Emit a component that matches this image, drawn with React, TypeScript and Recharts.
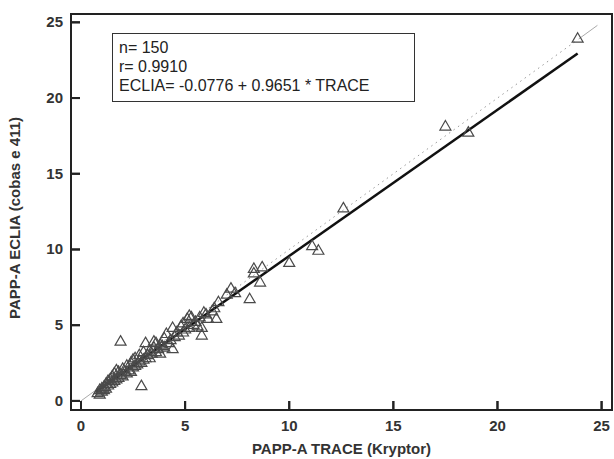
import React from "react";
import { ScatterChart, Scatter, XAxis, YAxis, ReferenceLine } from "recharts";

const traceValues = [
  0.8, 0.9, 0.9, 1.0, 1.0, 1.1, 1.1, 1.2, 1.2, 1.3, 1.3, 1.4, 1.4, 1.5, 1.5, 1.6, 1.6, 1.7, 1.7, 1.8,
  1.8, 1.9, 1.9, 2.0, 2.0, 2.1, 2.2, 2.2, 2.3, 2.4, 2.4, 2.5, 2.5, 2.6, 2.6, 2.7, 2.8, 2.8, 2.9, 2.9,
  3.0, 3.0, 3.1, 3.1, 3.2, 3.3, 3.3, 3.4, 3.5, 3.5, 3.6, 3.6, 3.7, 3.8, 3.8, 3.9, 4.0, 4.0, 4.1, 4.2,
  4.3, 4.4, 4.4, 4.5, 4.6, 4.7, 4.8, 4.9, 4.9, 5.0, 5.1, 5.2, 5.2, 5.3, 5.4, 5.5, 5.6, 5.7, 5.8, 5.8,
  5.9, 6.0, 6.1, 6.3, 6.5, 6.6, 6.4, 7.0, 7.2, 7.4, 8.1, 8.3, 8.3, 8.6, 8.7, 10.0, 11.1, 11.4, 12.6, 17.5,
  18.6, 23.85,
];
const ecliaValues = [
  0.6, 0.8, 0.5, 0.9, 0.7, 1.0, 0.8, 1.2, 0.9, 1.1, 1.4, 1.2, 1.5, 1.3, 1.7, 1.4, 1.9, 1.5, 2.1, 1.6,
  2.0, 1.8, 4.0, 1.7, 2.2, 2.0, 1.9, 2.4, 2.1, 2.6, 2.0, 2.3, 2.8, 2.4, 2.9, 2.5, 2.7, 3.1, 2.6, 1.06,
  2.8, 3.3, 3.9, 2.9, 3.1, 3.4, 2.9, 3.2, 3.6, 4.0, 3.9, 3.3, 3.5, 3.2, 3.8, 3.7, 4.2, 3.6, 4.5, 3.9,
  4.1, 3.5, 4.9, 4.3, 4.6, 4.4, 5.0, 4.6, 5.2, 4.8, 5.5, 5.7, 4.9, 5.6, 5.1, 5.3, 5.0, 5.6, 4.9, 4.4,
  5.9, 5.8, 5.5, 6.0, 5.5, 6.6, 6.2, 7.1, 7.5, 7.2, 6.8, 8.5, 8.8, 7.9, 8.9, 9.2, 10.3, 10.0, 12.8, 18.2,
  17.8, 24.0,
];
const xTicks = [0, 5, 10, 15, 20, 25];
const yTicks = [0, 5, 10, 15, 20, 25];
const xDomain = [-0.48, 25.5];
const yDomain = [-0.6, 25.55];
const statLines = ["n= 150", "r= 0.9910", "ECLIA= -0.0776 + 0.9651 * TRACE"];
const intercept = -0.0776;
const slope = 0.9651;
const fitRange = [0.7, 23.85];
const identityDotted = [0.8, 23.8];
const identitySolidA = [0, 0.8];
const identitySolidB = [23.9, 24.8];

const points = traceValues.map((x, i) => ({ x, y: ecliaValues[i] }));

const FONT = "'Liberation Sans', Arial, sans-serif";
const PLOT_LEFT = 71;
const PLOT_TOP = 14;
const PLOT_RIGHT = 612;
const PLOT_BOTTOM = 410;
const TICK_LEN = 9;

const Triangle = (props: any) => {
  const { cx, cy } = props;
  if (cx == null || cy == null) return null;
  const w = 5.5;
  const h = 9.5;
  return (
    <path
      d={`M${cx},${cy - h / 2} L${cx + w},${cy + h / 2} L${cx - w},${cy + h / 2} Z`}
      fill="none"
      stroke="#4a4a4a"
      strokeWidth={1.2}
    />
  );
};

const XTick = (props: any) => {
  const { x, payload } = props;
  return (
    <g>
      <rect x={x - 1} y={PLOT_BOTTOM - TICK_LEN} width={2} height={TICK_LEN} fill="#222" />
      <text x={x} y={431} textAnchor="middle" fontSize={15} fontWeight={700} fill="#333" fontFamily={FONT}>
        {payload.value}
      </text>
    </g>
  );
};

const YTick = (props: any) => {
  const { y, payload } = props;
  return (
    <g>
      <rect x={PLOT_LEFT} y={y - 1} width={TICK_LEN} height={2} fill="#222" />
      <text x={63} y={y + 5} textAnchor="end" fontSize={15} fontWeight={700} fill="#333" fontFamily={FONT}>
        {payload.value}
      </text>
    </g>
  );
};

const axisStroke = { stroke: "#222", strokeWidth: 2 };

export default function App() {
  return (
    <div style={{ position: "absolute", left: 0, top: 0, width: 614, height: 459, background: "#fff" }}>
      <ScatterChart width={614} height={459} margin={{ top: 14, right: 2, left: 21, bottom: 19 }}>
        <XAxis
          type="number"
          dataKey="x"
          domain={xDomain}
          ticks={xTicks}
          height={30}
          tickLine={axisStroke}
          tickSize={-TICK_LEN}
          tickMargin={0}
          axisLine={axisStroke}
          tick={<XTick />}
          label={{
            value: "PAPP-A TRACE (Kryptor)",
            position: "insideBottom",
            offset: -14,
            style: { fontSize: 15, fontWeight: 700, fill: "#333", fontFamily: FONT },
          }}
        />
        <YAxis
          type="number"
          dataKey="y"
          domain={yDomain}
          ticks={yTicks}
          width={50}
          tickLine={axisStroke}
          tickSize={-TICK_LEN}
          tickMargin={0}
          axisLine={axisStroke}
          tick={<YTick />}
          label={{
            value: "PAPP-A ECLIA (cobas e 411)",
            angle: -90,
            position: "insideLeft",
            offset: -6,
            dy: 6,
            style: { fontSize: 15, fontWeight: 700, fill: "#333", fontFamily: FONT, textAnchor: "middle" },
          }}
        />
        <ReferenceLine
          segment={[
            { x: identitySolidA[0], y: identitySolidA[0] },
            { x: identitySolidA[1], y: identitySolidA[1] },
          ]}
          stroke="#aaa"
          strokeWidth={1}
          ifOverflow="visible"
        />
        <ReferenceLine
          segment={[
            { x: identityDotted[0], y: identityDotted[0] },
            { x: identityDotted[1], y: identityDotted[1] },
          ]}
          stroke="#999"
          strokeWidth={1}
          strokeDasharray="1.5 4"
          ifOverflow="visible"
        />
        <ReferenceLine
          segment={[
            { x: identitySolidB[0], y: identitySolidB[0] },
            { x: identitySolidB[1], y: identitySolidB[1] },
          ]}
          stroke="#aaa"
          strokeWidth={1}
          ifOverflow="visible"
        />
        <ReferenceLine
          segment={[
            { x: fitRange[0], y: intercept + slope * fitRange[0] },
            { x: fitRange[1], y: intercept + slope * fitRange[1] },
          ]}
          stroke="#111"
          strokeWidth={2.5}
          ifOverflow="visible"
        />
        <Scatter data={points} shape={<Triangle />} isAnimationActive={false} />
      </ScatterChart>
      <div
        style={{
          position: "absolute",
          left: PLOT_LEFT - 1,
          top: PLOT_TOP - 1,
          width: PLOT_RIGHT - PLOT_LEFT + 2,
          height: PLOT_BOTTOM - PLOT_TOP + 2,
          border: "2px solid #222",
          boxSizing: "border-box",
          pointerEvents: "none",
        }}
      />
      <div
        style={{
          position: "absolute",
          left: 112,
          top: 33,
          width: 303,
          height: 69,
          border: "1.5px solid #333",
          boxSizing: "border-box",
          padding: "4px 0 0 6px",
          fontFamily: FONT,
          fontSize: 16,
          color: "#222",
          lineHeight: "19px",
          background: "#fff",
        }}
      >
        {statLines.map((s) => (
          <div key={s}>{s}</div>
        ))}
      </div>
    </div>
  );
}
